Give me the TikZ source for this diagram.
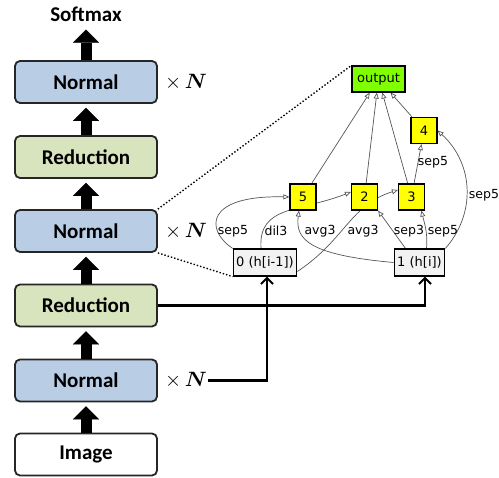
\documentclass[tikz,border=0pt]{standalone}
\usepackage{fontspec}
\usepackage{bm}
\setmainfont{Carlito}
\newfontfamily\cellfont{DejaVu Sans}
\usetikzlibrary{arrows.meta,calc}
\definecolor{normalc}{HTML}{B9CDE5}
\definecolor{redc}{HTML}{D7E4BD}
\definecolor{outc}{HTML}{80FF00}
\definecolor{opc}{HTML}{FFFF00}
\definecolor{inc}{HTML}{F2F2F2}
\definecolor{edgec}{HTML}{555555}
\tikzset{
  box/.style={draw=black!85, line width=1.8pt, rounded corners=5pt, minimum width=142pt, minimum height=42pt, font=\bfseries\fontsize{21}{23}\selectfont},
  bigarrow/.style={line width=11pt, -{Triangle[width=26pt,length=13pt,line width=0.1pt]}, shorten >=4pt},
  times/.style={anchor=west, inner sep=0pt, font=\fontsize{20}{22}\selectfont},
  feed/.style={line width=2.4pt, -{Straight Barb[length=6pt,width=12pt,line width=2pt]}},
  dots/.style={dotted, line width=1.4pt},
  op/.style={draw=black, line width=1.2pt, fill=opc, minimum width=26pt, minimum height=26pt, inner sep=0pt, font=\cellfont\fontsize{13}{15}\selectfont},
  innode/.style={draw=black, line width=1.2pt, fill=inc, minimum height=27pt, inner sep=3pt, font=\cellfont\fontsize{13}{15}\selectfont},
  outnode/.style={draw=black, line width=1.2pt, fill=outc, minimum width=53pt, minimum height=26pt, inner sep=0pt, font=\cellfont\fontsize{13}{15}\selectfont},
  e/.style={draw=edgec, line width=0.7pt, -{Triangle[open,length=6pt,width=5pt]}},
  elbl/.style={inner sep=0pt, font=\cellfont\fontsize{12.5}{14}\selectfont}
}
\begin{document}
\begin{tikzpicture}[x=1pt,y=-1pt]
\useasboundingbox (0,0) rectangle (499,478);
% left column
\node[inner sep=0pt, font=\bfseries\fontsize{21}{23}\selectfont] (sm) at (86,14) {Softmax};
\node[box, fill=normalc] (nA) at (86,82) {Normal};
\node[box, fill=redc] (rA) at (86,157) {Reduction};
\node[box, fill=normalc] (nB) at (86,231) {Normal};
\node[box, fill=redc] (rB) at (86,305.5) {Reduction};
\node[box, fill=normalc] (nC) at (86,380.5) {Normal};
\node[box, fill=white] (img) at (86,454.5) {Image};
\draw[bigarrow] (img.north) -- (nC.south);
\draw[bigarrow] (nC.north) -- (rB.south);
\draw[bigarrow] (rB.north) -- (nB.south);
\draw[bigarrow] (nB.north) -- (rA.south);
\draw[bigarrow] (rA.north) -- (nA.south);
\draw[bigarrow, shorten >=8pt] (nA.north) -- (sm.south);
\node[times] (xA) at (165,82) {$\times\,\bm{N}$};
\node[times] (xB) at (165,231) {$\times\,\bm{N}$};
\node[times] (xC) at (165,380.5) {$\times\,\bm{N}$};
% cell nodes
\node[outnode] (out) at (378.5,79) {output};
\node[op] (n4) at (424,130.5) {4};
\node[op] (n5) at (303,197) {5};
\node[op] (n2) at (364.5,197) {2};
\node[op] (n3) at (411.5,197) {3};
\node[innode] (n0) at (265,262.5) {0 (h[i-1])};
\node[innode] (n1) at (419.5,262.5) {1 (h[i])};
\draw[e] (n5) -- (out);
\draw[e] (n2) -- (out);
\draw[e] (n3) -- (out);
\draw[e] (n4) -- (out);
\draw[e] (n3) -- (n4);
\draw[e] (n1.north east) .. controls (475,215) and (475,165) .. (n4.east);
\draw[e] (n0.north west) .. controls (205,230) and (205,195) .. (n5.west);
\draw[e] ([xshift=-4pt]n0.north) .. controls (258,205) and (300,212) .. ([yshift=5pt]n2.west);
\draw[e] (n1.west) .. controls (310,255) and (295,240) .. ([xshift=-4pt]n5.south);
\draw[e] ([yshift=-9pt]n0.east) .. controls (345,240) and (350,205) .. ([yshift=7pt]n3.west);
\draw[e] ([xshift=-14pt]n1.north) -- (n2.south east);
\draw[e] ([xshift=7pt]n1.north) .. controls (428,232) and (424,222) .. ([xshift=10pt]n3.south);
% redraw nodes over edges
\node[op] at (n5) {5};
\node[op] at (n2) {2};
\node[op] at (n3) {3};
\node[innode] at (n0) {0 (h[i-1])};
\node[innode] at (n1) {1 (h[i])};
% labels
\node[elbl] (l1) at (233,231) {sep5};
\node[elbl] (l2) at (276,231) {dil3};
\node[elbl] (l3) at (320,231) {avg3};
\node[elbl] (l4) at (363,231) {avg3};
\node[elbl] (l5) at (409,231) {sep3};
\node[elbl] (l6) at (443,231) {sep5};
\node[elbl] (l7) at (433,162) {sep5};
\node[elbl] (l8) at (484,195) {sep5};
% dotted zoom lines
\draw[dots] (nB.north east) -- (out.north west);
\draw[dots] (nB.south east) -- (n0.south west);
% feed lines
\draw[feed] (rB.east) -| ([xshift=5.5pt]n1.south);
\draw[feed] (xC.east) ++(1pt,0) -| ([xshift=2pt]n0.south);
\end{tikzpicture}
\end{document}
